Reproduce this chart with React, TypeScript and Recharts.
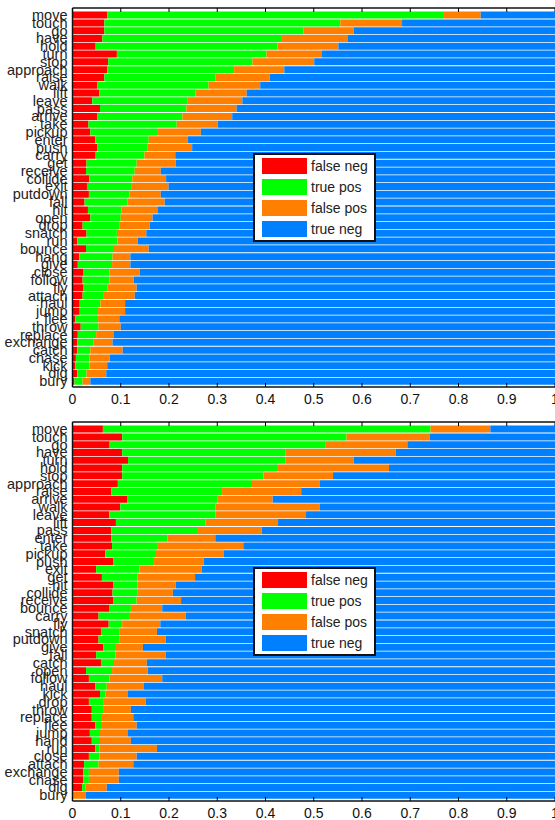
import React from 'react';
import { BarChart, Bar, XAxis, YAxis, Legend } from 'recharts';

// ---------- shared ----------
const seriesKeys = ['falseNeg', 'truePos', 'falsePos', 'trueNeg'];
const seriesNames = ['false neg', 'true pos', 'false pos', 'true neg'];
const seriesColors = ['#FF0000', '#00FF00', '#FF8000', '#0080FF'];
const xTicks = [0, 0.1, 0.2, 0.3, 0.4, 0.5, 0.6, 0.7, 0.8, 0.9, 1];
const xTickLabels = ['0', '0.1', '0.2', '0.3', '0.4', '0.5', '0.6', '0.7', '0.8', '0.9', '1'];

// ---------- top panel ----------
const topVerbs = ['move', 'touch', 'go', 'have', 'hold', 'turn', 'stop', 'approach', 'raise', 'walk', 'lift', 'leave', 'pass', 'arrive', 'take', 'pickup', 'enter', 'push', 'carry', 'get', 'receive', 'collide', 'exit', 'putdown', 'fall', 'hit', 'open', 'drop', 'snatch', 'run', 'bounce', 'hang', 'give', 'close', 'follow', 'fly', 'attach', 'haul', 'jump', 'flee', 'throw', 'replace', 'exchange', 'catch', 'chase', 'kick', 'dig', 'bury'];
const topFalseNeg = [0.072, 0.066, 0.066, 0.062, 0.048, 0.092, 0.074, 0.072, 0.066, 0.051, 0.056, 0.041, 0.057, 0.051, 0.033, 0.037, 0.047, 0.051, 0.048, 0.029, 0.028, 0.035, 0.030, 0.034, 0.025, 0.032, 0.037, 0.021, 0.029, 0.010, 0.028, 0.014, 0.011, 0.023, 0.021, 0.023, 0.021, 0.015, 0.015, 0.006, 0.017, 0.011, 0.010, 0.010, 0.007, 0.006, 0.010, 0.004];
const topTruePos = [0.696, 0.489, 0.413, 0.372, 0.377, 0.310, 0.299, 0.263, 0.230, 0.231, 0.199, 0.198, 0.179, 0.177, 0.183, 0.140, 0.111, 0.105, 0.101, 0.104, 0.101, 0.089, 0.093, 0.084, 0.089, 0.070, 0.063, 0.077, 0.063, 0.083, 0.058, 0.069, 0.071, 0.054, 0.056, 0.049, 0.044, 0.043, 0.038, 0.047, 0.037, 0.038, 0.034, 0.027, 0.028, 0.029, 0.019, 0.017];
const topFalsePos = [0.078, 0.128, 0.104, 0.137, 0.126, 0.114, 0.128, 0.104, 0.113, 0.107, 0.106, 0.113, 0.104, 0.103, 0.085, 0.089, 0.081, 0.092, 0.064, 0.081, 0.054, 0.070, 0.076, 0.065, 0.077, 0.074, 0.066, 0.062, 0.061, 0.042, 0.072, 0.037, 0.038, 0.062, 0.050, 0.061, 0.064, 0.051, 0.056, 0.044, 0.046, 0.037, 0.039, 0.067, 0.042, 0.037, 0.041, 0.016];
const topTrueNeg = [0.154, 0.317, 0.417, 0.429, 0.449, 0.484, 0.499, 0.561, 0.591, 0.611, 0.639, 0.648, 0.660, 0.669, 0.699, 0.734, 0.761, 0.752, 0.787, 0.786, 0.817, 0.806, 0.801, 0.817, 0.809, 0.824, 0.834, 0.840, 0.847, 0.865, 0.842, 0.880, 0.880, 0.861, 0.873, 0.867, 0.871, 0.891, 0.891, 0.903, 0.900, 0.914, 0.917, 0.896, 0.923, 0.928, 0.930, 0.963];

// ---------- bottom panel ----------
const bottomVerbs = ['move', 'touch', 'go', 'have', 'turn', 'hold', 'stop', 'approach', 'raise', 'arrive', 'walk', 'leave', 'lift', 'pass', 'enter', 'take', 'pickup', 'push', 'exit', 'get', 'hit', 'collide', 'receive', 'bounce', 'carry', 'fly', 'snatch', 'putdown', 'give', 'fall', 'catch', 'open', 'follow', 'haul', 'kick', 'drop', 'throw', 'replace', 'flee', 'jump', 'hand', 'run', 'close', 'attach', 'exchange', 'chase', 'dig', 'bury'];
const bottomFalseNeg = [0.063, 0.103, 0.077, 0.103, 0.115, 0.103, 0.103, 0.094, 0.080, 0.113, 0.099, 0.076, 0.090, 0.080, 0.080, 0.082, 0.068, 0.085, 0.049, 0.061, 0.085, 0.083, 0.085, 0.077, 0.054, 0.075, 0.059, 0.054, 0.064, 0.049, 0.059, 0.028, 0.034, 0.047, 0.057, 0.034, 0.040, 0.040, 0.047, 0.036, 0.040, 0.047, 0.034, 0.024, 0.022, 0.022, 0.020, 0.002];
const bottomTruePos = [0.679, 0.465, 0.448, 0.339, 0.327, 0.321, 0.293, 0.278, 0.230, 0.187, 0.197, 0.220, 0.186, 0.180, 0.117, 0.095, 0.105, 0.082, 0.090, 0.074, 0.050, 0.051, 0.048, 0.044, 0.065, 0.028, 0.039, 0.044, 0.026, 0.040, 0.027, 0.054, 0.043, 0.024, 0.011, 0.031, 0.025, 0.021, 0.014, 0.021, 0.017, 0.009, 0.022, 0.030, 0.012, 0.012, 0.007, 0.001];
const bottomFalsePos = [0.124, 0.172, 0.169, 0.228, 0.141, 0.232, 0.144, 0.140, 0.164, 0.115, 0.216, 0.188, 0.150, 0.132, 0.099, 0.177, 0.140, 0.105, 0.129, 0.119, 0.079, 0.074, 0.092, 0.065, 0.116, 0.079, 0.077, 0.095, 0.056, 0.104, 0.068, 0.074, 0.109, 0.077, 0.047, 0.087, 0.056, 0.065, 0.072, 0.058, 0.064, 0.119, 0.077, 0.072, 0.062, 0.062, 0.044, 0.024];
const bottomTrueNeg = [0.134, 0.260, 0.306, 0.330, 0.417, 0.344, 0.460, 0.488, 0.526, 0.585, 0.488, 0.516, 0.574, 0.608, 0.704, 0.646, 0.687, 0.728, 0.732, 0.746, 0.786, 0.792, 0.775, 0.814, 0.765, 0.818, 0.825, 0.807, 0.854, 0.807, 0.846, 0.844, 0.814, 0.852, 0.885, 0.848, 0.879, 0.874, 0.867, 0.885, 0.879, 0.825, 0.867, 0.874, 0.904, 0.904, 0.929, 0.973];

const buildRows = (names: string[], fn: number[], tp: number[], fp: number[], tn: number[]) =>
  names.map((name, i) => ({ name, falseNeg: fn[i], truePos: tp[i], falsePos: fp[i], trueNeg: tn[i] }));

const topRows = buildRows(topVerbs, topFalseNeg, topTruePos, topFalsePos, topTrueNeg);
const bottomRows = buildRows(bottomVerbs, bottomFalseNeg, bottomTruePos, bottomFalsePos, bottomTrueNeg);

const FONT = '"Liberation Sans", Arial, Helvetica, sans-serif';

const BottomTick = (props: any) => {
  const { x, y, payload } = props;
  const idx = xTicks.indexOf(payload.value);
  return (
    <g>
      <line x1={x} x2={x} y1={y} y2={y - 4} stroke="#000" strokeWidth={1} />
      <text x={x} y={y + 17} textAnchor="middle" fontSize={14} fontFamily={FONT} fill="#111">
        {idx >= 0 ? xTickLabels[idx] : String(payload.value)}
      </text>
    </g>
  );
};

const TopTick = (props: any) => {
  const { x, y } = props;
  return <line x1={x} x2={x} y1={y} y2={y + 4} stroke="#000" strokeWidth={1} />;
};

const LegendBox = () => (
  <div
    style={{
      position: 'relative',
      width: 123,
      height: 89,
      boxSizing: 'border-box',
      border: '2px solid #111',
      background: '#fff',
      fontFamily: FONT,
    }}
  >
    {seriesNames.map((n, i) => (
      <div key={n}>
        <div
          style={{
            position: 'absolute',
            left: 7,
            top: 3 + i * 21,
            width: 45,
            height: 16,
            background: seriesColors[i],
          }}
        />
        <div
          style={{
            position: 'absolute',
            left: 56,
            top: 3 + i * 21,
            height: 16,
            lineHeight: '16px',
            fontSize: 14,
            color: '#222',
            whiteSpace: 'nowrap',
          }}
        >
          {n}
        </div>
      </div>
    ))}
  </div>
);

const Panel = ({ rows, top }: { rows: any[]; top: number }) => (
  <div style={{ position: 'absolute', left: 0, top }}>
    <BarChart
      width={580}
      height={412}
      data={rows}
      layout="vertical"
      margin={{ top: 0, right: 25, left: 0.5, bottom: 0 }}
      barCategoryGap="8%"
    >
      <XAxis
        xAxisId="top"
        orientation="top"
        type="number"
        domain={[0, 1]}
        ticks={xTicks}
        interval={0}
        allowDataOverflow
        height={8}
        tickSize={0}
        tickMargin={0}
        tick={<TopTick />}
        axisLine={{ stroke: '#111', strokeWidth: 1.5 }}
      />
      <XAxis
        type="number"
        domain={[0, 1]}
        ticks={xTicks}
        interval={0}
        allowDataOverflow
        height={25}
        tickSize={0}
        tickMargin={0}
        tick={<BottomTick />}
        axisLine={{ stroke: '#111', strokeWidth: 1.5 }}
      />
      <YAxis
        type="category"
        dataKey="name"
        width={72}
        interval={0}
        tickLine={false}
        tickSize={0}
        tickMargin={5}
        padding={{ top: 3, bottom: 2 }}
        tick={{ fontSize: 14.5, fill: '#222', fontFamily: FONT }}
        axisLine={{ stroke: '#111', strokeWidth: 1.5 }}
      />
      {seriesKeys.map((k, i) => (
        <Bar key={k} dataKey={k} name={seriesNames[i]} stackId="s" fill={seriesColors[i]} isAnimationActive={false} />
      ))}
      <Legend
        layout="vertical"
        align="center"
        verticalAlign="middle"
        content={() => <LegendBox />}
        wrapperStyle={{ left: 253, top: 153, width: 123, height: 89 }}
      />
    </BarChart>
  </div>
);

export default function App() {
  return (
    <div
      style={{
        position: 'absolute',
        left: 0,
        top: 0,
        width: 555,
        height: 820,
        overflow: 'hidden',
        background: '#fff',
      }}
    >
      <Panel rows={topRows} top={0} />
      <Panel rows={bottomRows} top={414} />
    </div>
  );
}
